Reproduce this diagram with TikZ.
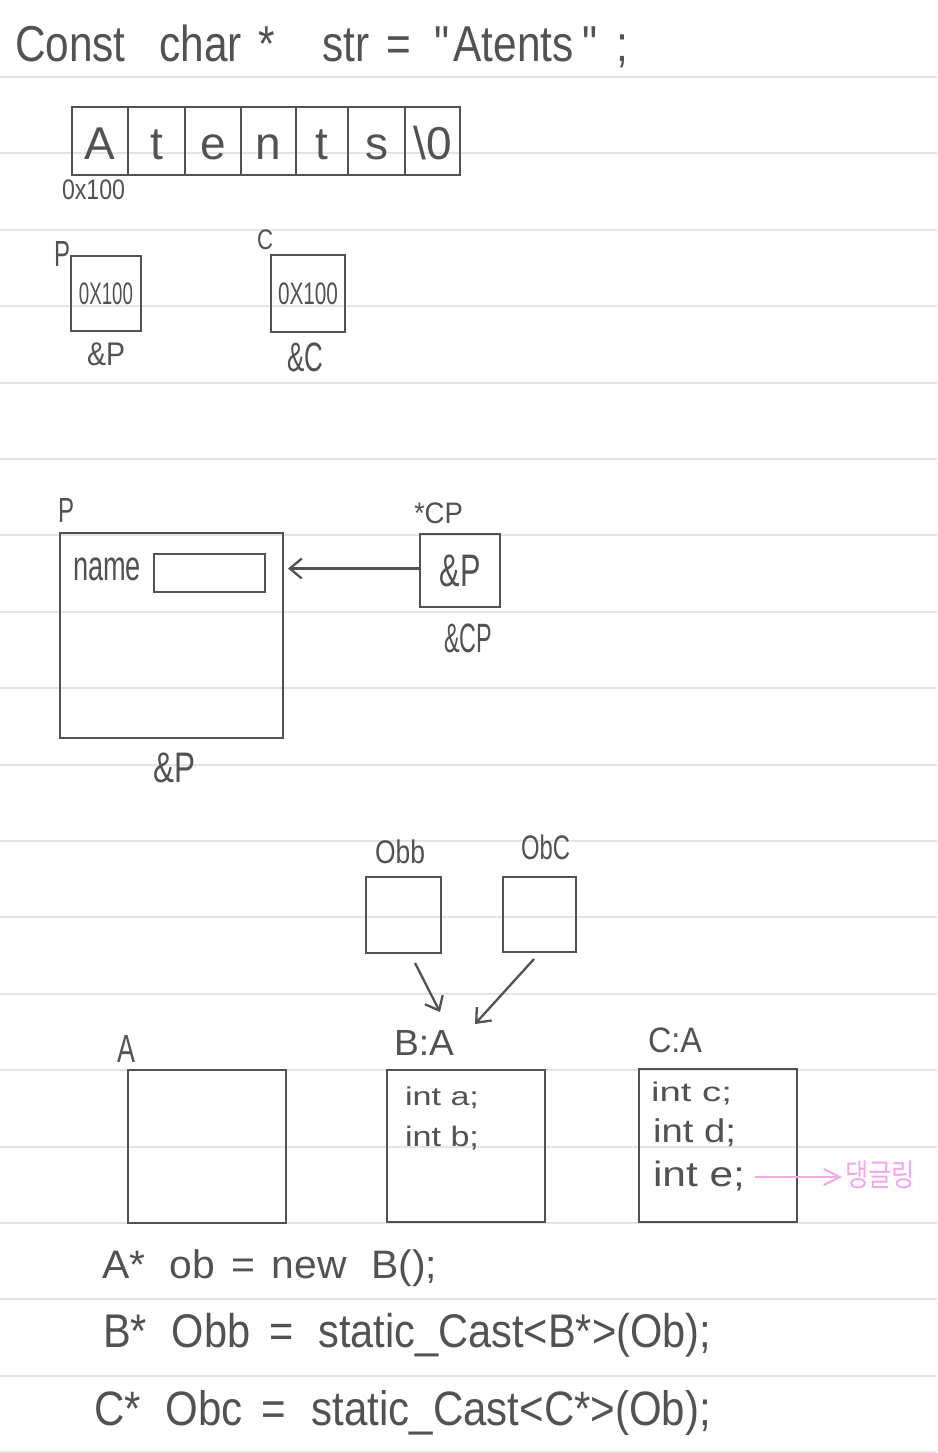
\documentclass[tikz,border=0pt]{standalone}
\usepackage{fontspec}
\setmainfont{Liberation Sans}[Ligatures=TeXOff]
\newfontfamily\krfont{Noto Sans CJK KR}
\usetikzlibrary{arrows.meta}
\definecolor{ink}{HTML}{525252}
\definecolor{ruleclr}{HTML}{E4E4E4}
\definecolor{pinkink}{HTML}{F3A8EE}
\newcommand\hw[3]{\resizebox*{#1pt}{#2pt}{#3}}
\begin{document}
\begin{tikzpicture}[x=1pt,y=-1pt,
  lab/.style={inner sep=0pt,outer sep=0pt,anchor=north west,text=ink},
  cell/.style={draw=ink,line width=2.9pt,inner sep=0pt,outer sep=0pt,minimum height=68pt,text=ink,
    font=\fontsize{46}{46}\selectfont,text height=36pt,text depth=0pt},
  box/.style={draw=ink,line width=2.9pt,inner sep=0pt,outer sep=0pt,text=ink},
  conn/.style={draw=ink,line width=2.3pt,-{Straight Barb[length=12pt,width=20pt,line width=2.3pt]}},
  pinkconn/.style={draw=pinkink,line width=2pt,-{Straight Barb[length=16pt,width=16pt,line width=2pt]}},
  ruleline/.style={draw=ruleclr,line width=2pt}
]
\useasboundingbox[fill=white] (0,0) rectangle (937,1453);
% ruled paper
\foreach \k in {0,...,18} \draw[ruleline] (0,{77+76.4*\k}) -- (937,{77+76.4*\k});

% title
\node[lab] (title) at (15,25) {\hw{613}{43}{Const\hspace{0.8em}char\hspace{0.4em}*\hspace{1.1em}str\hspace{0.4em}=\hspace{0.55em}"\hspace{0.1em}Atents\hspace{0.2em}"\hspace{0.45em};}};

% string array
\node[cell,minimum width=56pt] (c1) at (100,141) {A};
\node[cell,minimum width=57pt] (c2) at (156.5,141) {t};
\node[cell,minimum width=56pt] (c3) at (213,141) {e};
\node[cell,minimum width=55pt] (c4) at (268.5,141) {n};
\node[cell,minimum width=52pt] (c5) at (322,141) {t};
\node[cell,minimum width=57pt] (c6) at (376.5,141) {s};
\node[cell,minimum width=55pt] (c7) at (432.5,141) {\textbackslash0};
\node[lab] (addr) at (62,180) {\hw{63}{20}{0x100}};

% p and c pointers
\node[lab] (plab) at (54,241) {\hw{16}{25}{P}};
\node[box,minimum width=70pt,minimum height=75pt] (pbox) at (106,293.5) {\hw{54}{22}{0X100}};
\node[lab] (paddr) at (87,343) {\hw{38}{23}{\&P}};
\node[lab] (clab) at (257,230) {\hw{16}{20}{C}};
\node[box,minimum width=74pt,minimum height=77pt] (cbox) at (308,293.5) {\hw{60}{22}{0X100}};
\node[lab] (caddr) at (287,343) {\hw{36}{29}{\&C}};

% struct P and pointer cp
\node[lab] (bplab) at (58,498) {\hw{16}{24}{P}};
\node[box,minimum width=223pt,minimum height=205pt] (bigp) at (171.5,635.5) {};
\node[lab] (namelab) at (73,558) {\hw{68}{23}{name}};
\node[box,minimum width=111pt,minimum height=38pt] (namebox) at (209.5,573) {};
\node[lab] (bpaddr) at (153,753) {\hw{42}{30}{\&P}};
\node[lab] (cplab) at (414,503) {\hw{49}{21}{*CP}};
\node[box,minimum width=80pt,minimum height=73pt] (cpbox) at (460,570.5) {\hw{41}{32}{\&P}};
\node[lab] (cpaddr) at (444,624) {\hw{48}{29}{\&CP}};
\draw[conn,shorten >=5pt] ([yshift=2pt]cpbox.west) -- ([yshift=2pt]cpbox.west -| bigp.east);

% casts
\node[lab] (obblab) at (375,840) {\hw{50}{24}{Obb}};
\node[box,minimum width=75pt,minimum height=76pt] (obb) at (403.5,915) {};
\node[lab] (obclab) at (521,835) {\hw{49}{25}{ObC}};
\node[box,minimum width=73pt,minimum height=75pt] (obc) at (539.5,914.5) {};

\node[lab] (alab) at (117,1035) {\hw{18}{27}{A}};
\node[box,minimum width=158pt,minimum height=153pt] (boxa) at (207,1146.5) {};
\node[lab] (balab) at (394,1030) {\hw{60}{25}{B:A}};
\node[box,minimum width=158pt,minimum height=152pt] (boxb) at (466,1146) {};
\node[lab] (calab) at (648,1028) {\hw{54}{25}{C:A}};
\node[box,minimum width=158pt,minimum height=153pt] (boxc) at (718,1145.5) {};

\node[lab] (inta) at (405,1087) {\hw{74}{22}{int a;}};
\node[lab] (intb) at (405,1126) {\hw{74}{24}{int b;}};
\node[lab] (intc) at (651,1082) {\hw{81}{23}{int c;}};
\node[lab] (intd) at (653,1119) {\hw{83}{28}{int d;}};
\node[lab] (inte) at (653,1161) {\hw{92}{30}{int e;}};
\node[lab,text=pinkink] (dang) at (845,1161) {\hw{70}{28}{\krfont 댕글링}};
\draw[pinkconn,shorten <=10pt,shorten >=3pt] ([yshift=-1pt]inte.east) -- ([yshift=-1pt]inte.east -| dang.west);

\draw[conn] ([shift={(11.5,10)}]obb.south) -- ([shift={(16,-18)}]balab.north);
\draw[conn] ([shift={(-5.5,7)}]obc.south) -- ([shift={(21,-6)}]balab.north east);

% code lines
\node[lab] (code1) at (102,1250) {\hw{335}{37}{A*\hspace{0.6em}ob\hspace{0.4em}=\hspace{0.4em}new\hspace{0.6em}B();}};
\node[lab] (code2) at (103,1313) {\hw{608}{44}{B*\hspace{0.6em}Obb\hspace{0.45em}=\hspace{0.6em}static\_Cast<B*>(Ob);}};
\node[lab] (code3) at (94,1390) {\hw{617}{45}{C*\hspace{0.6em}Obc\hspace{0.45em}=\hspace{0.6em}static\_Cast<C*>(Ob);}};
\end{tikzpicture}
\end{document}
